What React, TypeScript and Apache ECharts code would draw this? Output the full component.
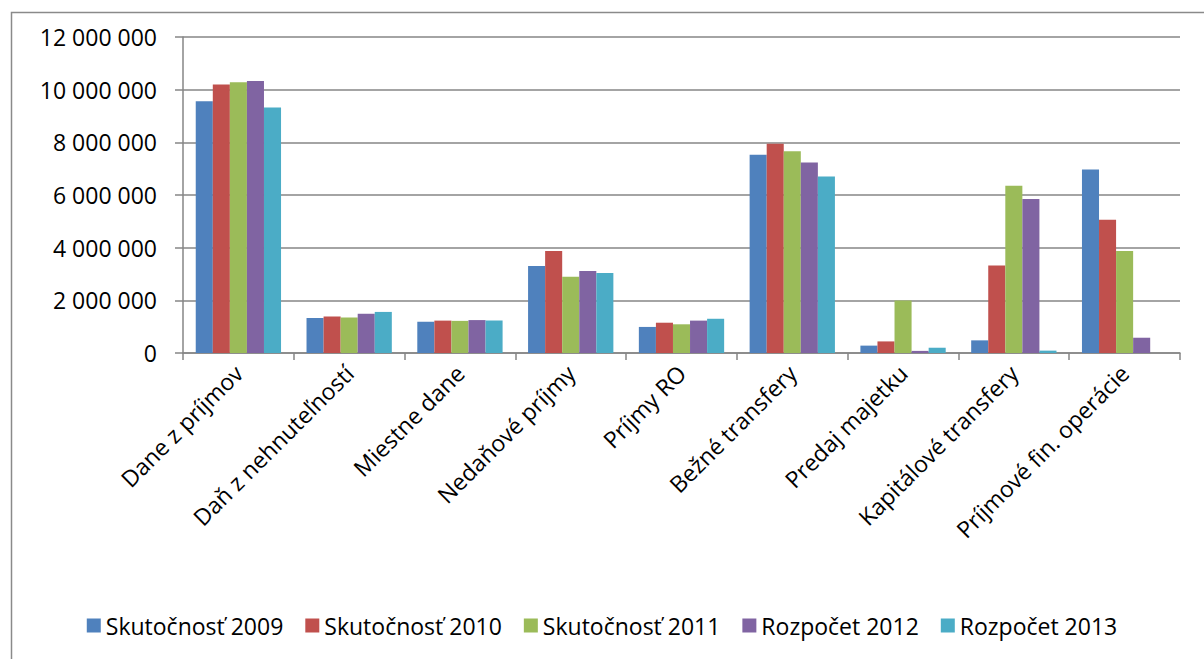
import React, { useEffect, useRef } from "react";
import * as echarts from "echarts";

const categories = [
  "Dane z príjmov",
  "Daň z nehnuteľností",
  "Miestne dane",
  "Nedaňové príjmy",
  "Príjmy RO",
  "Bežné transfery",
  "Predaj majetku",
  "Kapitálové transfery",
  "Príjmové fin. operácie",
];

const seriesNames = [
  "Skutočnosť 2009",
  "Skutočnosť 2010",
  "Skutočnosť 2011",
  "Rozpočet 2012",
  "Rozpočet 2013",
];

const skutocnost2009 = [9560000, 1330000, 1190000, 3300000, 990000, 7530000, 280000, 480000, 6970000];
const skutocnost2010 = [10200000, 1390000, 1230000, 3870000, 1150000, 7950000, 440000, 3320000, 5060000];
const skutocnost2011 = [10280000, 1350000, 1220000, 2900000, 1090000, 7660000, 1990000, 6350000, 3870000];
const rozpocet2012 = [10330000, 1490000, 1250000, 3110000, 1230000, 7230000, 80000, 5850000, 580000];
const rozpocet2013 = [9320000, 1560000, 1230000, 3040000, 1300000, 6700000, 200000, 90000, 0];

const yTicks = { min: 0, max: 12000000, interval: 2000000 };

const colors = ["#4F81BD", "#C0504D", "#9BBB59", "#8064A2", "#4BACC6"];

const fmt = (v: number) =>
  String(Math.round(v)).replace(/\B(?=(\d{3})+(?!\d))/g, " ");

export default function App() {
  const ref = useRef<HTMLDivElement>(null);
  useEffect(() => {
    document.body.style.margin = "0";
    if (!ref.current) return;
    const chart = echarts.init(ref.current, undefined, { renderer: "svg" });
    const data = [skutocnost2009, skutocnost2010, skutocnost2011, rozpocet2012, rozpocet2013];
    const font = "'Open Sans', sans-serif";
    chart.setOption({
      animation: false,
      backgroundColor: "#ffffff",
      textStyle: { fontFamily: font },
      graphic: [
        {
          type: "rect",
          left: 9,
          top: 10,
          shape: { width: 1300, height: 800 },
          style: { fill: "none", stroke: "#8a8a8a", lineWidth: 1.5 },
          silent: true,
        },
      ],
      grid: { left: 183, right: 24, top: 37, bottom: 306, containLabel: false },
      legend: {
        bottom: 17,
        left: "center",
        itemWidth: 14,
        itemHeight: 14,
        itemGap: 22,
        icon: "rect",
        textStyle: { fontSize: 23, color: "#000", fontFamily: font, padding: [0, 0, 0, 0] },
        data: seriesNames,
      },
      xAxis: {
        type: "category",
        data: categories,
        axisLine: { lineStyle: { color: "#868686", width: 1.5 } },
        axisTick: { show: true, length: 7, lineStyle: { color: "#868686", width: 1.5 } },
        axisLabel: {
          rotate: 45,
          interval: 0,
          margin: 16,
          fontSize: 23,
          color: "#000",
          fontFamily: font,
        },
      },
      yAxis: {
        type: "value",
        min: yTicks.min,
        max: yTicks.max,
        interval: yTicks.interval,
        axisLine: { show: true, lineStyle: { color: "#868686", width: 1.5 } },
        axisTick: { show: true, length: 8, lineStyle: { color: "#868686", width: 1.5 } },
        splitLine: { lineStyle: { color: "#868686", width: 1.5 } },
        axisLabel: {
          margin: 26,
          fontSize: 23,
          color: "#000",
          fontFamily: font,
          formatter: (v: number) => fmt(v),
        },
      },
      series: seriesNames.map((name, i) => ({
        name,
        type: "bar",
        data: data[i],
        barGap: "0%",
        barCategoryGap: "23%",
        itemStyle: { color: colors[i] },
      })),
    });
    return () => chart.dispose();
  }, []);
  return <div ref={ref} style={{ width: 1204, height: 659 }} />;
}
